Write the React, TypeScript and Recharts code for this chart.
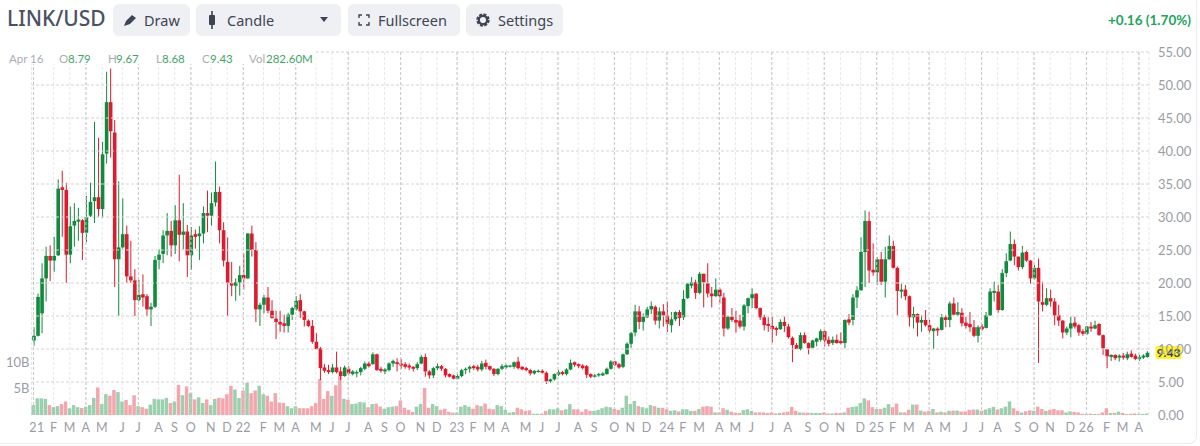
import React from "react";
import { ComposedChart, Bar, Cell, XAxis, YAxis, CartesianGrid, ReferenceLine, ReferenceDot } from "recharts";

const opens = [
  11.3,12,15.4,20.7,24.1,23.4,24.2,34.5,34.1,24.3,
  28.7,29.3,29.5,27.6,30.2,32.4,33,31.2,39.6,47.4,
  42.8,23.6,25.4,27.4,21,20.4,17.4,18.3,18,16,
  16.4,23.5,24.4,27.2,27.9,25.7,29.5,27.3,27.8,24.2,
  27.4,27.1,27.5,30.6,30.2,32.2,33.8,28,23.2,20,
  19.6,20.1,21.2,20.7,27.5,25,16,16.7,17.8,15.8,
  14.6,14.1,13.9,13.5,15.2,16,17.4,15.7,14.3,13.5,
  11.1,10.1,7.2,6.8,6.5,7.2,6.6,5.9,7,6.2,
  6.3,6.5,7,7.8,7.7,9.2,7,6.6,6.8,7.8,
  8,7.8,7.7,7.5,7.3,7.1,7.8,8.8,6.6,6,
  7.1,7.4,7,6.2,6,5.5,5.9,6.8,7,7.4,
  7.3,6.9,7.9,7.4,7,6.2,7,7.2,7.4,7.3,
  8.1,7.3,7.1,6.8,6.3,6.6,6.7,6.4,5.1,5.4,
  6.1,6.5,6.2,6.9,8,7.7,7.5,7.4,6.2,5.8,
  6,6,6.2,7,8.1,7.7,7.3,9.2,10.8,12.5,
  15.7,14.1,14.8,16,16.4,14.3,15.7,15.1,13.6,14.5,
  15.6,14.8,17.7,19.6,20.1,18.5,21.4,20,18.4,18,
  19,17.8,13.1,14.9,14.4,14.3,13.4,16.5,17.7,18.4,
  16.2,14.8,13.8,13.5,13.2,13,14.1,13.4,11.7,10.6,
  10,12.1,10.9,10.2,11.1,11.4,12.7,11.4,10.9,11.4,
  11.2,10.9,14.5,14.4,17.8,18.9,24.7,29.4,22,21.6,
  23.6,20.2,23.6,25.6,22.3,18.7,19,18,14.8,15.3,
  14,14.4,13.6,12.7,13.1,12.9,14.8,14.4,16.9,15.2,
  15.5,14,13.8,13.3,12,13.4,13.2,15.1,18.5,18.7,
  15.9,21.5,23.4,25.9,24,22.4,24.7,23.4,20.7,22.3,
  17.1,16.7,17.7,17.2,15.1,14.3,12.5,13.1,14,13.6,
  12.7,12.3,13.4,13.1,13.8,12.1,10,8.8,9.1,8.7,
  9,8.6,9.3,9,8.45,8.7,8.79,
];
const closes = [
  12,17.9,20.7,24.1,23.4,24.1,34.3,34.1,24.3,28.6,
  29.4,29.6,27.6,30,32.3,33,31.2,39.5,47.4,43,
  23.6,25.4,27.4,21,20.4,17.4,18.2,17.8,16,16.4,
  23.5,24.3,27.2,27.9,25.7,29.5,27.3,27.8,24.2,27.2,
  27,27.5,30.6,30.2,32.1,33.8,28,23.4,20,19.6,
  20.1,21.2,20.7,27.5,25,16,16.7,17.8,15.8,14.7,
  14.1,13.7,13.5,15.2,16.2,17.3,15.7,14.4,13.5,11.1,
  10,7.1,6.7,6.5,7.2,6.5,5.9,7.2,6.3,6.6,
  6.5,7.1,7.8,7.4,9.2,6.8,6.7,6.9,7.8,8.2,
  7.7,7.5,7.3,7.2,7,7.7,8.8,6.6,6,7.1,
  7.4,7,6,5.8,5.5,5.9,6.8,7,7.3,7.1,
  6.9,7.8,7.3,6.9,6.2,7,7.4,7.5,7.5,8,
  7.1,6.9,6.8,6.3,6.7,6.7,6.4,5.1,5.4,6.2,
  6.5,6.2,6.9,7.9,7.6,7.4,7.1,6.1,5.8,6,
  6.2,6.3,7,8.1,7.6,7.2,9.2,10.8,12.4,15.7,
  14.1,14.9,16,16.5,14.3,15.7,15.1,13.8,14.5,15.6,
  14.7,17.6,19.9,20.1,18.5,21.4,20.1,18.4,18,19,
  18,13.1,14.9,14.4,14,13.4,16.6,17.7,18.3,16.2,
  14.8,13.6,13.5,13,12.9,14.1,13.5,11.8,10.6,10,
  12.1,10.9,10.1,11.3,11.6,12.7,11.3,10.8,11.4,10.9,
  10.9,14.4,14,17.8,18.9,24.7,29.4,21.9,21.6,23.6,
  20.2,23.6,25.6,22.3,18.8,19,18,14.8,15.3,14,
  14.4,13.6,12.8,13.1,12.8,14.8,14.4,16.9,15.2,15.6,
  13.9,13.5,13.3,12,13.3,13,15.1,18.7,18.8,15.9,
  21.5,23.3,25.9,24,22.4,24.6,23.4,20.7,22.3,17.2,
  16.7,17.7,17.2,15.1,14.3,12.5,13.1,13.9,13.4,12.5,
  12.3,13.4,13.1,13.6,12.1,10.1,8.9,9.1,8.6,9,
  8.7,9.2,8.8,8.5,8.8,9,9.43,
];
const highs = [
  13.3,18.4,23,25.5,25.7,27,35.7,37,35.2,31.6,
  32.1,31.4,29.7,33.2,35.2,44.4,42,41.4,52,52.5,
  44.7,35.4,32.8,28.7,26.4,22.1,20.5,21.3,18.3,17,
  24.1,25.1,28,30.6,29.4,31.8,36.4,32.1,28.8,28.5,
  28.1,28.6,31.6,34,33.7,38.4,34.6,29.2,26.9,23.2,
  20.7,22.6,24.5,27.6,28.7,26.2,17,18.2,19.4,17.4,
  15.8,15.8,15.2,15.5,16.4,18,18.3,15.8,14.5,14.4,
  12.4,10.3,7.7,7.6,7.7,9.6,7.3,7.5,7.4,6.8,
  6.8,7.3,8.1,8.1,9.5,9.3,7.3,7.1,8,8.4,
  8.6,8.5,8,7.8,7.4,8,9.1,9.3,6.8,7.3,
  7.8,7.6,7.1,6.3,6.1,6.2,7,7.2,7.5,7.6,
  7.6,8.2,8.4,7.5,7.1,7.1,7.7,7.7,7.6,8.1,
  8.8,7.4,7.3,7,6.8,6.9,6.9,6.6,5.5,6.3,
  6.8,6.7,7.1,8.4,8.1,7.8,7.7,7.6,6.3,6.2,
  6.4,6.5,7.2,8.3,8.2,7.9,9.3,11,12.6,16.7,
  16.5,15.4,16.4,17.2,16.6,16.3,16.8,17.2,15.6,15.7,
  15.9,18.9,20,20.9,20.5,21.7,21.4,23,19.4,20.7,
  19.3,18.5,15.1,16.2,15.8,15.2,16.8,17.8,19.2,18.4,
  16.3,15.2,14.8,14.9,13.4,14.5,14.9,13.8,11.9,10.9,
  12.5,12.5,11,11.4,11.7,13,12.8,11.9,11.9,12.2,
  12.5,14.5,15.3,18.3,19.5,26.9,31,30.8,26,23.9,
  24.7,25.5,27.2,26.4,22.5,19.9,19.7,18.1,16.4,15.4,
  15.1,15.9,14.4,13.2,13.3,15.3,15.1,17.2,17.8,17.1,
  16.2,14.9,15.6,14.4,13.6,13.8,15.6,19.2,20.2,19.7,
  22.1,24.5,27.8,26.6,24,25.6,24.9,23.5,22.7,23.7,
  20.2,19.2,19,17.7,16.7,14.4,13.4,14.9,14.9,13.8,
  13,13.5,14.1,14.3,13.9,12.2,10,9.2,9.2,9.2,
  9.4,9.6,9.8,9.3,9.1,9.2,9.67,
];
const lows = [
  10.5,11.9,12.4,17.2,20.3,21.7,24.1,27,20,23,
  25.5,26.4,23.5,26.2,30,29.1,30,29.9,38.1,39,
  19.4,15,25.2,20,20,15,17.2,16.4,15,13.5,
  16.2,22.1,23,24.2,24,24.4,23.3,25.1,20.9,22,
  25.2,23.5,26,27.7,28.7,31.6,26,22.5,15,18,
  17.3,18.1,19,20.6,24,14.1,13.5,15.4,15.4,14.6,
  11.5,12.6,12.5,12.5,14.4,15.8,14.7,13.4,13.3,10.8,
  9.9,5.3,6.4,6.2,6.3,6.3,5.3,5.8,6,6,
  5.7,6,6.8,7.2,7.6,6.7,6.4,6.2,6.6,7.3,
  6.6,7,7,6.8,6.6,6.8,7.7,5.8,5.5,5.6,
  6.8,6.7,5.7,5.7,5.4,5.4,5.7,6.2,6.4,6.8,
  6.6,6.6,6.9,6.7,5.9,6,6.8,7,7.2,7,
  6.9,6.8,6.6,6,6.1,6.4,6.3,4.7,4.9,5.2,
  5.9,6,6,6.8,7.3,7.1,6.9,5.6,5.6,5.7,
  5.8,5.9,6.1,6.9,7.4,7,7.1,9.1,10.2,11.9,
  13,12.8,14.7,15.3,13.7,13.1,13.4,12.6,12.5,14.2,
  13.5,14.4,17.6,19.2,17.6,18.3,16.3,17.8,16.3,17.9,
  16.9,11.9,12.9,14.1,12.5,13.1,12.8,15.4,16.2,16,
  14.4,12.8,12.6,11,12,12.9,12.6,11.6,8,10,
  9.8,10.8,9.2,10.1,10.4,11.1,10.4,10.4,10.6,10.8,
  10.7,10.1,13.6,13.6,16.2,18.8,19.4,20,21.1,19.7,
  19.7,17.8,23.5,22.2,15.1,17.7,17.4,13.4,13.1,11.9,
  12.6,13.4,12.4,10,12,12.8,13.3,13.3,15.1,15,
  13.4,13.1,12.6,11.8,11,12.8,13.1,15,17.2,15.5,
  15.8,20.9,23.3,22.7,21.9,22.1,23.2,19.9,20.5,7.9,
  15.7,16.5,16.4,13.6,13.5,11.6,12.1,11.8,13.1,12,
  12,12.1,12.6,13,12,9.1,7.1,8.2,8.3,8.1,
  8.4,8.3,8.7,8.3,8.2,8.5,8.68,
];
const volumes = [
  1.9,3.2,3.2,3.1,1.9,1.5,1.7,2.1,2.6,1.3,
  1.9,1.5,1.35,1.6,1.9,3.3,5.3,2.1,4,3.7,
  4.8,4.4,2.6,2.9,1.9,3.8,1.7,1.5,1.2,2,
  3.1,3,3,3.3,2.3,2.6,5.8,3.8,5.5,4.2,
  3,3.4,2.3,3,1.9,3.1,3.3,3.2,4,5.6,
  4.9,3.3,4.7,6.2,4.2,4.7,5.6,4,3.7,2.6,
  4.2,2.4,2.3,1.7,1.3,1.7,1.3,1.3,1.3,1.7,
  2.3,6.9,3.1,4.6,3.7,5.7,7.5,3.1,2.9,2.1,
  2.2,2.5,2.4,1.5,2.1,2.2,1.6,1.2,1.5,1.6,
  1.7,2.8,1.4,1,0.6,1.6,2.1,5.2,1.4,2.1,
  1.7,1,1.2,0.6,0.45,0.45,1.6,1.9,1.6,1.2,
  1.9,1.7,2.2,1.2,1.1,1.9,1.7,1,0.45,0.6,
  1.4,1.1,0.8,0.9,0.25,0.25,0.25,0.8,1.1,1.1,
  1.3,0.9,1.1,2.1,1.1,1.1,0.6,1.1,0.8,0.8,
  1,1.3,1.6,1.5,1.2,1,1.4,3.7,2.1,2.7,
  1.7,1.5,1.3,1.9,1.7,1.4,1.4,1.1,0.8,0.9,
  0.7,1.1,1.1,0.8,0.8,1.15,1.6,1.7,1.6,0.5,
  0.5,1.3,1,0.65,0.45,0.4,0.95,1.1,0.8,0.5,
  0.5,0.5,0.4,0.5,0.3,0.4,0.5,0.65,1.55,0.8,
  0.5,0.45,0.45,0.4,0.4,0.4,0.5,0.3,0.3,0.4,
  0.4,0.5,1.4,1.55,1.65,2.3,3.2,2.8,1.5,1.15,
  1.15,1.4,2.1,1.5,2.2,0.5,0.5,1,2,2,
  0.85,0.65,0.8,1.15,0.5,0.65,0.5,0.8,0.85,0.85,
  0.65,0.7,1,1.05,1.05,0.8,1.05,1.3,1.55,1.05,
  1.3,1.6,2.6,1.3,0.8,0.5,0.7,0.9,0.8,1.6,
  1.15,0.8,1,1.15,0.9,0.9,0.5,0.7,0.6,0.5,
  0.25,0.2,0.25,0.2,0.2,0.5,1.3,0.4,0.4,0.65,
  0.4,0.2,0.25,0.3,0.2,0.2,0.28,
];
const monthTicks = [0,5,9,13,17,22,26,31,35,39,44,48,52,57,61,65,70,74,78,83,87,91,96,100,105,109,113,117,122,126,130,135,139,144,148,152,157,161,165,170,174,178,183,187,192,196,200,205,209,213,217,222,226,231,235,239,244,248,252,257,261,266,270,274];
const monthLabels = ["21","F","M","A","M","J","J","A","S","O","N","D","22","F","M","A","M","J","J","A","S","O","N","D","23","F","M","A","M","J","J","A","S","O","N","D","24","F","M","A","M","J","J","A","S","O","N","D","25","F","M","A","M","J","J","A","S","O","N","D","26","F","M","A"];
const priceTicks = [0,5,10,15,20,25,30,35,40,45,50,55];
const gridPrices = [5,10,15,20,25,30,35,40,45,50,55];
const volumeTicks = [5,10];
const lastPrice = 9.43;
const legendItems = [["O","8.79"],["H","9.67"],["L","8.68"],["C","9.43"],["Vol","282.60M"]];

const GREEN = "#118a3e", RED = "#dc1c2e", GREEN_V = "#9ccfae", RED_V = "#f2a6ad";
const GRID_H = "#d4d4d4", GRID_MINOR = "#e8e8e8", GRID_STRONG = "#c8c8c8", AXIS_TEXT = "#9a9da5";
const FONT = "Lato, 'Noto Sans', sans-serif";
const UI_FONT = "'Noto Sans', sans-serif";

const data = opens.map((o, i) => ({ i, o, c: closes[i], h: highs[i], l: lows[i], v: volumes[i] }));

function Candle(props: any) {
  const { x, y, width, height, payload } = props;
  const { o, c, h, l } = payload;
  const k = height / (h - l);
  const cx = x + width / 2;
  const top = y + (h - Math.max(o, c)) * k;
  const bodyH = Math.max(Math.abs(o - c) * k, 1.2);
  const color = c >= o ? GREEN : RED;
  return (
    <g>
      <rect x={cx - 0.5} y={y} width={1} height={height} fill={color} />
      <rect x={cx - 1.8} y={top} width={3.6} height={bodyH} fill={color} />
    </g>
  );
}

function MonthTick(props: any) {
  const { x, y, payload } = props;
  const pos = monthTicks.indexOf(payload.value);
  const label = monthLabels[pos];
  return (
    <text x={x + (pos === 0 ? 3.5 : 0)} y={y + 9} textAnchor="middle" fontSize={12.5} fill={AXIS_TEXT} fontFamily={FONT} letterSpacing={0.4}>
      {label}
    </text>
  );
}

function VolumeTick(props: any) {
  const { x, y, payload } = props;
  return (
    <text x={x + 6} y={y + 4.5} textAnchor="end" fontSize={13} fill={AXIS_TEXT} fontFamily={FONT}>
      {payload.value}B
    </text>
  );
}

function PriceTag(props: any) {
  const { cy } = props;
  return (
    <g>
      <rect x={1155.5} y={cy - 6.8} width={26} height={13} rx={2} fill="#fff227" />
      <text x={1168.5} y={cy + 3.9} textAnchor="middle" fontSize={12} fontFamily={FONT} fontWeight={700} fill="#3a3f4c">
        {lastPrice.toFixed(2)}
      </text>
    </g>
  );
}

const btn = (left: number, width: number): React.CSSProperties => ({
  position: "absolute", left, top: 4, width, height: 32, background: "#eff0f3", borderRadius: 6,
  fontFamily: UI_FONT, fontSize: 14.5, color: "#3e4453", display: "flex", alignItems: "center", boxSizing: "border-box",
});
const abs = (left: number, top: number): React.CSSProperties => ({ position: "absolute", left, top, whiteSpace: "nowrap" });

export default function App() {
  const legendX = [59, 108, 156, 202, 249];
  const valueX = [68, 116, 162, 210, 266];
  return (
    <div style={{ position: "absolute", left: 0, top: 0, width: 1200, height: 446, overflow: "hidden", background: "#fff" }}>
      <div style={{ position: "absolute", left: -10, top: -10, width: 1207, height: 453.5, borderRight: "1px solid #ececee", borderBottom: "1px solid #ececee", borderRadius: 8, boxSizing: "border-box" }} />
      <div style={{ position: "absolute", left: 0, top: 0 }}>
        <ComposedChart width={1200} height={446} data={data} margin={{ top: 52, right: 0, bottom: 0, left: 0 }} barCategoryGap={0}>
          <XAxis xAxisId="m" dataKey="i" type="category" ticks={monthTicks} interval={0} axisLine={false} tickLine={false} height={31} tick={<MonthTick />} />
          <XAxis xAxisId="vx" dataKey="i" type="category" hide />
          <YAxis yAxisId="vol" orientation="left" width={31.5} domain={[0, 69.8]} ticks={volumeTicks} interval={0} axisLine={false} tickLine={false} tickMargin={2} tick={<VolumeTick />} />
          <YAxis yAxisId="price" orientation="right" width={51} domain={[0, 55]} ticks={priceTicks} interval={0} axisLine={false} tickLine={false} tickMargin={3} tick={{ fontSize: 13, fill: AXIS_TEXT, fontFamily: FONT }} tickFormatter={(v: number) => v.toFixed(2)} />
          <CartesianGrid xAxisId="m" yAxisId="price" vertical={true} horizontal={false} stroke={GRID_MINOR} strokeDasharray="3 2" />
          {gridPrices.map((p) => (
            <ReferenceLine key={p} xAxisId="m" yAxisId="price" y={p} stroke={GRID_H} strokeDasharray="3 2" />
          ))}
          {monthTicks.filter((_, k) => k % 3 === 0).map((t) => (
            <ReferenceLine key={t} xAxisId="m" yAxisId="price" x={t} stroke={GRID_STRONG} strokeDasharray="3 2" />
          ))}
          <Bar xAxisId="vx" yAxisId="vol" dataKey="v" barSize={3.5} isAnimationActive={false}>
            {data.map((d) => (
              <Cell key={d.i} fill={d.c >= d.o ? GREEN_V : RED_V} />
            ))}
          </Bar>
          <Bar xAxisId="m" yAxisId="price" dataKey={(d: any) => [d.l, d.h]} barSize={3} shape={<Candle />} isAnimationActive={false} />
          <ReferenceDot xAxisId="m" yAxisId="price" x={276} y={lastPrice} r={0} shape={<PriceTag />} />
        </ComposedChart>
      </div>

      <div style={{ position: "absolute", left: 0, top: 49, width: 316, height: 15, background: "#fff" }} />
      <div style={{ ...abs(9, 52), fontFamily: FONT, fontSize: 11.5, color: "#a9adb5" }}>Apr 16</div>
      {legendItems.map(([k, v], n) => (
        <React.Fragment key={k}>
          <div style={{ ...abs(legendX[n], 52), fontFamily: FONT, fontSize: 11.5, color: "#a9adb5" }}>{k}</div>
          <div style={{ ...abs(valueX[n], 52), fontFamily: FONT, fontSize: 11.5, color: "#3fa564" }}>{v}</div>
        </React.Fragment>
      ))}

      <div style={{ ...abs(7, 4), fontFamily: UI_FONT, fontSize: 21, fontWeight: 500, color: "#4b5162" }}>LINK/USD</div>

      <div style={btn(113, 77)}>
        <svg style={{ position: "absolute", left: 10, top: 9 }} width="16" height="14" viewBox="0 0 16 14"><path d="M1 13 L3 8 L9 2 L13 5 L7 11 Z" fill="#3e4453" /></svg>
        <span style={{ position: "absolute", left: 31 }}>Draw</span>
      </div>
      <div style={btn(196, 145)}>
        <svg style={{ position: "absolute", left: 12, top: 7 }} width="8" height="18" viewBox="0 0 8 18"><rect x="3.2" y="0" width="1.6" height="18" fill="#3e4453" /><rect x="1" y="4" width="6" height="10" rx="1" fill="#3e4453" /></svg>
        <span style={{ position: "absolute", left: 31 }}>Candle</span>
        <svg style={{ position: "absolute", left: 123, top: 13 }} width="10" height="6" viewBox="0 0 10 6"><path d="M1 0 L9 0 L5 5 Z" fill="#3e4453" /></svg>
      </div>
      <div style={btn(348, 112)}>
        <svg style={{ position: "absolute", left: 10, top: 10 }} width="12" height="12" viewBox="0 0 12 12" fill="none" stroke="#3e4453" strokeWidth="1.4"><path d="M1 4 V1 H4 M8 1 H11 V4 M11 8 V11 H8 M4 11 H1 V8" /></svg>
        <span style={{ position: "absolute", left: 30 }}>Fullscreen</span>
      </div>
      <div style={btn(466, 97)}>
        <svg style={{ position: "absolute", left: 10, top: 9 }} width="14" height="14" viewBox="0 0 14 14"><circle cx="7" cy="7" r="5" fill="none" stroke="#3e4453" strokeWidth="3.4" strokeDasharray="2.6 1.3" /><circle cx="7" cy="7" r="4.2" fill="none" stroke="#3e4453" strokeWidth="2.2" /></svg>
        <span style={{ position: "absolute", left: 32 }}>Settings</span>
      </div>

      <div style={{ ...abs(1108, 12), fontFamily: FONT, fontSize: 13.5, fontWeight: 700, color: "#23a35d" }}>+0.16 (1.70%)</div>
    </div>
  );
}
